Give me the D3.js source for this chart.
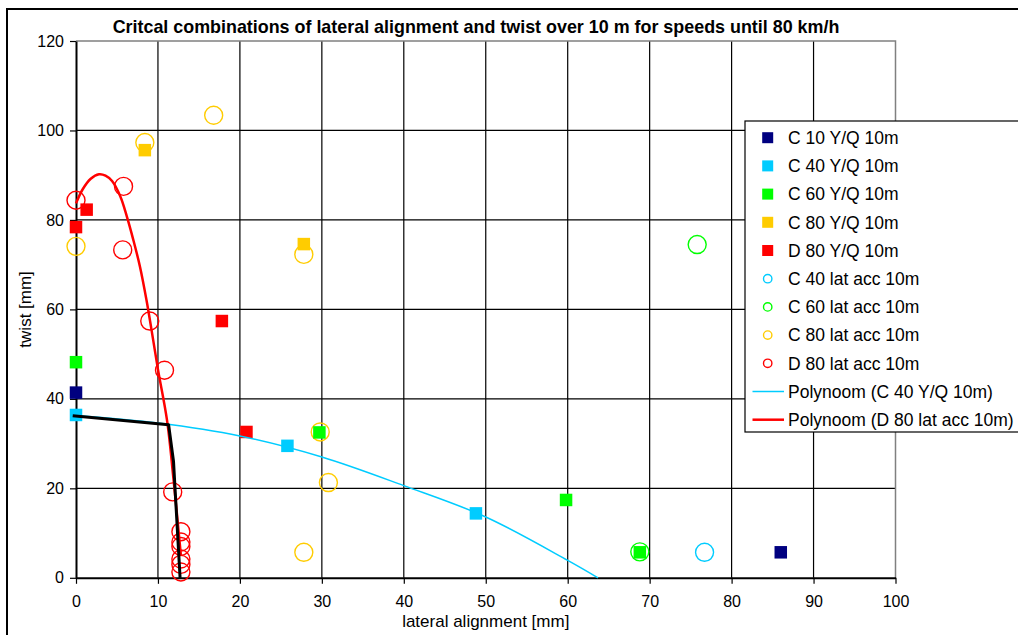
<!DOCTYPE html>
<html>
<head>
<meta charset="utf-8">
<script src="https://cdn.jsdelivr.net/npm/d3@7"></script>
<style>
  html, body { margin: 0; padding: 0; background: #fff; }
  svg { display: block; font-family: "Liberation Sans", Arial, sans-serif; }
</style>
</head>
<body>
<svg id="chart" width="1018" height="635"></svg>
<script>
// ---------- data ----------
const title = "Critcal combinations of lateral alignment and twist over 10 m for speeds until 80 km/h";
const xTicks = [0, 10, 20, 30, 40, 50, 60, 70, 80, 90, 100];
const yTicks = [0, 20, 40, 60, 80, 100, 120];
const xLabel = "lateral alignment [mm]";
const yLabel = "twist [mm]";

const c10YQ = [[0, 41.4], [86, 5.7]];
const c40YQ = [[0, 36.4], [25.8, 29.5], [48.8, 14.4]];
const c60YQ = [[0, 48.2], [29.7, 32.5], [59.8, 17.4], [68.8, 5.7]];
const c80YQ = [[8.4, 95.6], [27.8, 74.6]];
const d80YQ = [[0, 78.4], [1.3, 82.3], [17.8, 57.4], [20.8, 32.6]];

const c40Lat = [[76.7, 5.7]];
const c60Lat = [[75.8, 74.5], [68.8, 5.8]];
const c80Lat = [[16.8, 103.4], [8.4, 97.3], [0, 74.1], [27.8, 72.3], [29.8, 32.6], [30.8, 21.3], [27.8, 5.7]];
const d80Lat = [[0, 84.4], [5.8, 87.5], [5.7, 73.3], [9.0, 57.4], [10.8, 46.4], [11.8, 19.2],
                [12.8, 10.3], [12.8, 8.0], [12.8, 7.0], [12.8, 4.2], [12.8, 3.0], [12.8, 1.3]];

const polyC40 = [[0, 36.3], [10, 34.6], [20, 31.7], [30, 27.0], [40, 20.6], [50, 13.6], [60, 3.9], [63.7, 0]];
const polyD80 = [[0, 83.7], [0.8, 86.8], [1.8, 89.2], [2.8, 90.2], [3.6, 89.9], [4.4, 88.7], [5.4, 85.3],
                 [6.2, 80.8], [7.0, 75.5], [7.8, 69.6], [8.6, 62.1], [9.2, 55.6], [10.0, 46.6],
                 [11.1, 35.3], [11.9, 22.0], [12.8, 5.0]];
const limitLine = [[-0.4, 36.2], [11.3, 34.2], [11.9, 26.0], [12.7, 0]];

const squareSeries = [
  { name: "C 10 Y/Q 10m", color: "#000080", data: c10YQ },
  { name: "C 40 Y/Q 10m", color: "#00CCFF", data: c40YQ },
  { name: "C 60 Y/Q 10m", color: "#00FF00", data: c60YQ },
  { name: "C 80 Y/Q 10m", color: "#FFCC00", data: c80YQ },
  { name: "D 80 Y/Q 10m", color: "#FF0000", data: d80YQ }
];
const circleSeries = [
  { name: "C 40 lat acc 10m", color: "#00CCFF", data: c40Lat },
  { name: "C 60 lat acc 10m", color: "#00FF00", data: c60Lat },
  { name: "C 80 lat acc 10m", color: "#FFCC00", data: c80Lat },
  { name: "D 80 lat acc 10m", color: "#FF0000", data: d80Lat }
];
const lineSeries = [
  { name: "Polynoom (C 40 Y/Q 10m)", color: "#00CCFF", width: 1.5, data: polyC40 },
  { name: "Polynoom (D 80 lat acc 10m)", color: "#FF0000", width: 2.5, data: polyD80 }
];

// ---------- layout ----------
const svg = d3.select("#chart");
const x = d3.scaleLinear().domain([0, 100]).range([76, 895.5]);
const y = d3.scaleLinear().domain([0, 120]).range([577.8, 41]);

// outer frame
svg.append("rect").attr("x", 7).attr("y", 9).attr("width", 1030).attr("height", 650)
  .attr("fill", "#fff").attr("stroke", "#000").attr("stroke-width", 2);

// title
svg.append("text").attr("x", 476).attr("y", 33).attr("text-anchor", "middle")
  .attr("font-weight", "bold").attr("font-size", 17.9).text(title);

// grid
const grid = svg.append("g");
grid.selectAll("line.vx").data(xTicks.filter(d => d > 0 && d < 100)).join("line")
  .attr("x1", d => x(d)).attr("x2", d => x(d)).attr("y1", y(0)).attr("y2", y(120))
  .attr("stroke", "#000").attr("stroke-width", 1.2);
grid.selectAll("line.hy").data(yTicks.filter(d => d > 0 && d < 120)).join("line")
  .attr("x1", x(0)).attr("x2", x(100)).attr("y1", d => y(d)).attr("y2", d => y(d))
  .attr("stroke", "#000").attr("stroke-width", 1.2);
// plot border (grey top/right)
svg.append("path")
  .attr("d", `M${x(0)},${y(120)}H${x(100)}V${y(0)}`)
  .attr("fill", "none").attr("stroke", "#808080").attr("stroke-width", 1.5);

// axes
const xAxis = svg.append("g").attr("transform", `translate(0,${y(0)})`)
  .call(d3.axisBottom(x).tickValues(xTicks).tickFormat(d3.format("d")).tickSize(6).tickPadding(12).tickSizeOuter(0));
const yAxis = svg.append("g").attr("transform", `translate(${x(0)},0)`)
  .call(d3.axisLeft(y).tickValues(yTicks).tickFormat(d3.format("d")).tickSize(6).tickPadding(6).tickSizeOuter(0));
[xAxis, yAxis].forEach(a => {
  a.select(".domain").attr("stroke", "#000").attr("stroke-width", 2);
  a.selectAll(".tick line").attr("stroke", "#000").attr("stroke-width", 1.2);
  a.selectAll(".tick text").attr("font-size", 16).attr("fill", "#000")
    .attr("font-family", "Liberation Sans, Arial, sans-serif");
});

svg.append("text").attr("x", (x(0) + x(100)) / 2).attr("y", 627).attr("text-anchor", "middle")
  .attr("font-size", 17).text(xLabel);
svg.append("text").attr("transform", `translate(31,${(y(0) + y(120)) / 2}) rotate(-90)`)
  .attr("text-anchor", "middle").attr("font-size", 17).text(yLabel);

// marks
const marks = svg.append("g");
circleSeries.forEach(s => {
  marks.append("g").selectAll("circle").data(s.data).join("circle")
    .attr("cx", d => x(d[0])).attr("cy", d => y(d[1])).attr("r", 9)
    .attr("fill", "none").attr("stroke", s.color).attr("stroke-width", 1.4);
});
const sq = 12.5;
squareSeries.forEach(s => {
  marks.append("g").selectAll("rect").data(s.data).join("rect")
    .attr("x", d => x(d[0]) - sq / 2).attr("y", d => y(d[1]) - sq / 2)
    .attr("width", sq).attr("height", sq).attr("fill", s.color);
});
const line = d3.line().x(d => x(d[0])).y(d => y(d[1])).curve(d3.curveCatmullRom.alpha(0.5));
lineSeries.forEach(s => {
  svg.append("path").datum(s.data).attr("d", line)
    .attr("fill", "none").attr("stroke", s.color).attr("stroke-width", s.width);
});
svg.append("path").datum(limitLine)
  .attr("d", d3.line().x(d => x(d[0])).y(d => y(d[1])))
  .attr("fill", "none").attr("stroke", "#000").attr("stroke-width", 3).attr("stroke-linejoin", "round");

// legend
const lg = svg.append("g");
lg.append("rect").attr("x", 745).attr("y", 121).attr("width", 300).attr("height", 311)
  .attr("fill", "#fff").attr("stroke", "#000").attr("stroke-width", 1.2);
const items = [
  ...squareSeries.map(s => ({ ...s, type: "square" })),
  ...circleSeries.map(s => ({ ...s, type: "circle" })),
  ...lineSeries.map(s => ({ ...s, type: "line" }))
];
items.forEach((it, i) => {
  const cy = 137.7 + i * 28.2;
  const g = lg.append("g");
  if (it.type === "square") {
    g.append("rect").attr("x", 767.7 - 5.5).attr("y", cy - 5.5).attr("width", 11).attr("height", 11).attr("fill", it.color);
  } else if (it.type === "circle") {
    g.append("circle").attr("cx", 767.7).attr("cy", cy).attr("r", 4.2)
      .attr("fill", "none").attr("stroke", it.color).attr("stroke-width", 1.4);
  } else {
    g.append("line").attr("x1", 752.5).attr("x2", 784).attr("y1", cy).attr("y2", cy)
      .attr("stroke", it.color).attr("stroke-width", it.width);
  }
  g.append("text").attr("x", 788).attr("y", cy).attr("dy", "0.36em")
    .attr("font-size", 17.5).text(it.name);
});
</script>
</body>
</html>
